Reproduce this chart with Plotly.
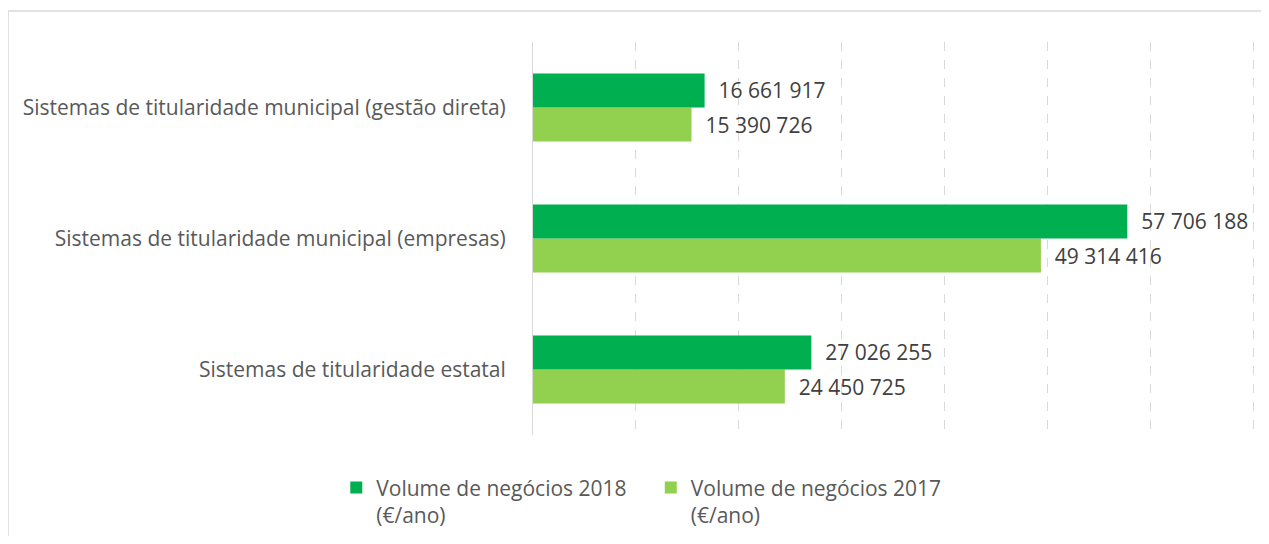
import plotly.graph_objects as go

categories = [
    "Sistemas de titularidade estatal",
    "Sistemas de titularidade municipal (empresas)",
    "Sistemas de titularidade municipal (gestão direta)",
]
values_2018 = [27026255, 57706188, 16661917]
values_2017 = [24450725, 49314416, 15390726]
name_2018 = "Volume de negócios 2018<br>(€/ano)"
name_2017 = "Volume de negócios 2017<br>(€/ano)"

def fmt(v):
    return "  " + f"{v:,}".replace(",", " ")

FONT = "Open Sans"
FS = 21
W, H = 1253, 528  # page body has 8px margin
fig = go.Figure()
fig.add_trace(go.Bar(
    y=categories, x=values_2017, orientation="h", name=name_2017,
    marker=dict(color="#92D050", line=dict(width=0)),
    text=[fmt(v) for v in values_2017], textposition="outside",
    textfont=dict(color="#404040", size=FS, family=FONT), cliponaxis=False,
    legend="legend2",
))
fig.add_trace(go.Bar(
    y=categories, x=values_2018, orientation="h", name=name_2018,
    marker=dict(color="#00B050", line=dict(width=0)),
    text=[fmt(v) for v in values_2018], textposition="outside",
    textfont=dict(color="#404040", size=FS, family=FONT), cliponaxis=False,
    legend="legend",
))

leg_common = dict(
    orientation="h", xref="container", yref="container",
    xanchor="left", yanchor="top", y=0.13,
    font=dict(size=FS, color="#595959", family=FONT),
    valign="top", itemwidth=30, bgcolor="rgba(0,0,0,0)",
)

fig.update_layout(
    width=W, height=H,
    margin=dict(l=525, r=5, t=34, b=101, autoexpand=False),
    paper_bgcolor="white", plot_bgcolor="white",
    barmode="group", bargap=0.48, bargroupgap=0,
    font=dict(family=FONT, color="#595959", size=FS),
    showlegend=True,
    legend=dict(x=0.262, **leg_common),
    legend2=dict(x=0.513, **leg_common),
    xaxis=dict(
        range=[0, 70200000], dtick=10000000, showticklabels=False,
        showgrid=True, gridcolor="#D9D9D9", griddash="dash", gridwidth=1,
        zeroline=False, showline=False, automargin=False,
    ),
    yaxis=dict(
        categoryorder="array", categoryarray=categories,
        showline=True, linecolor="#D9D9D9", linewidth=1,
        ticks="", ticklabelstandoff=22, automargin=False,
        tickfont=dict(size=FS, color="#595959", family=FONT),
    ),
    shapes=[dict(
        type="rect", xref="paper", yref="paper",
        x0=(0 - 525) / 723, x1=(1300 - 525) / 723,
        y0=(427 - 560) / 393, y1=(427 - 3) / 393,
        line=dict(color="#D9D9D9", width=1.5), fillcolor="rgba(0,0,0,0)",
        layer="below",
    )],
)

fig.write_html("out.html")
